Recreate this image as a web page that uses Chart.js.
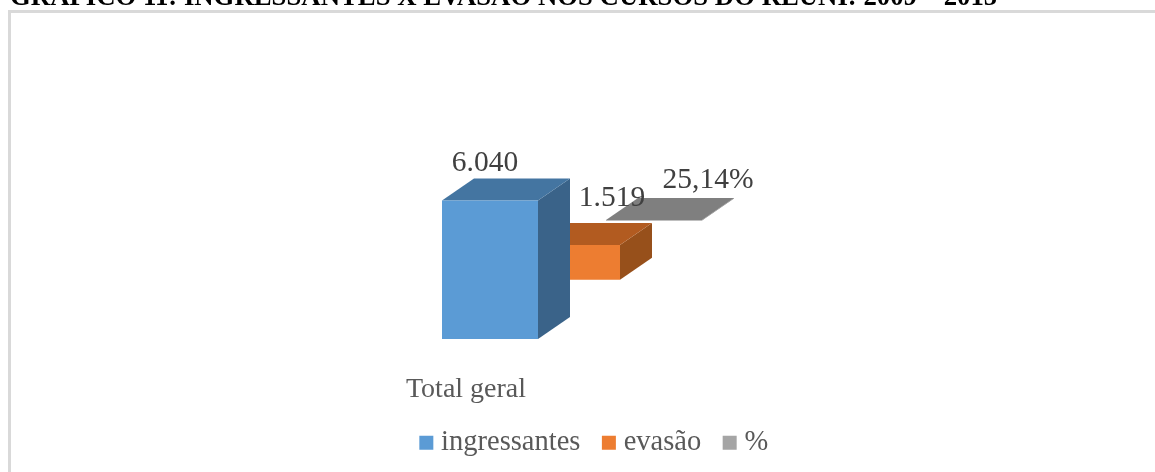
<!DOCTYPE html>
<html><head><meta charset="utf-8">
<style>
html,body{margin:0;padding:0;background:#fff;overflow:hidden}
#wrap{position:relative;width:1155px;height:472px;overflow:hidden}
canvas{position:absolute;left:0;top:0}
#frame{position:absolute;left:8px;top:10px;width:1200px;height:500px;border:3px solid #d9d9d9;box-sizing:border-box}
</style>
<script src="https://cdn.jsdelivr.net/npm/chart.js@4"></script>
</head><body><div id="wrap"><div id="frame"></div><canvas id="c" width="1155" height="472"></canvas></div>
<script>
const titleText = 'GRÁFICO 11: INGRESSANTES X EVASÃO NOS CURSOS DO REUNI: 2009 – 2015';
const categories = ['Total geral'];
const seriesNames = ['ingressantes', 'evasão', '%'];
const ingressantes = [6040];
const evasao = [1519];
const percentual = [25.14];
const valueLabels = ['6.040', '1.519', '25,14%'];
// raised baselines of the stepped 3D series
const evasaoBase = [2582];
const percentualBase = [5165];

const frontColors = ['#5B9BD5', '#ED7D31', '#808080'];
const topColors = ['#4475A1', '#B25B20', '#7F7F7F'];
const sideColors = ['#3A6389', '#97501B', '#6A6A6A'];
const legendColors = ['#5B9BD5', '#ED7D31', '#A5A5A5'];
const depthX = 32, depthY = -22;
const labelShift = [[-5, -30], [40, -39], [54, -32]];
const serif = '"Liberation Serif", serif';

const poly = (ctx, pts, color) => {
  ctx.fillStyle = color; ctx.beginPath();
  pts.forEach((p, i) => i ? ctx.lineTo(p[0], p[1]) : ctx.moveTo(p[0], p[1]));
  ctx.closePath(); ctx.fill();
};
const bar3d = {
  id: 'bar3d',
  afterLayout(chart) {
    chart.legend.left += 25; chart.legend.right += 25;
    const x = chart.scales.x; x.bottom = x.top + 80; // keep the tick label unclipped
  },
  beforeDatasetDraw(chart, args) {
    const el = chart.getDatasetMeta(args.index).data[0], ctx = chart.ctx, i = args.index;
    const l = el.x - el.width / 2, r = el.x + el.width / 2, t = el.y, b = el.base;
    poly(ctx, [[r, t], [r + depthX, t + depthY], [r + depthX, b + depthY], [r, b]], sideColors[i]);
    poly(ctx, [[l, t], [l + depthX, t + depthY], [r + depthX, t + depthY], [r, t]], topColors[i]);
  },
  afterDatasetsDraw(chart) {
    const ctx = chart.ctx;
    ctx.save();
    ctx.font = '29.5px ' + serif; ctx.fillStyle = '#404040';
    ctx.textAlign = 'center'; ctx.textBaseline = 'alphabetic';
    valueLabels.forEach((s, i) => {
      const el = chart.getDatasetMeta(i).data[0];
      ctx.fillText(s, el.x + labelShift[i][0], el.y + labelShift[i][1]);
    });
    ctx.restore();
  }
};
const scaleMax = 13525;
new Chart(document.getElementById('c'), {
  type: 'bar',
  plugins: [bar3d],
  data: {
    labels: categories,
    datasets: [
      { label: seriesNames[0], data: ingressantes, backgroundColor: frontColors[0] },
      { label: seriesNames[1], data: evasao.map((v, i) => [evasaoBase[i], evasaoBase[i] + v]), backgroundColor: frontColors[1] },
      { label: seriesNames[2], data: percentual.map((v, i) => [percentualBase[i], percentualBase[i] + v]), backgroundColor: frontColors[2] }
    ]
  },
  options: {
    responsive: false, animation: false,
    barPercentage: 96 / 82,
    categoryPercentage: 246 / 1124,
    layout: { padding: { left: 10, right: 21, top: 0, bottom: 5 } },
    plugins: {
      tooltip: { enabled: false },
      title: { display: true, text: titleText, align: 'start', color: '#000',
        font: { family: serif, size: 26.75, weight: 'bold', lineHeight: 1 }, padding: { top: -15.2, bottom: 17.45 } },
      legend: { position: 'bottom',
        labels: { color: '#595959', font: { family: serif, size: 28.5 }, usePointStyle: true, pointStyle: 'rect',
          boxWidth: 1, boxHeight: 14, padding: 28,
          generateLabels: c => seriesNames.map((n, i) => ({ text: n, fontColor: '#595959', fillStyle: legendColors[i], strokeStyle: legendColors[i], lineWidth: 0, pointStyle: 'rect', datasetIndex: i })) } }
    },
    scales: {
      y: { display: false, min: 0, max: scaleMax },
      x: { grid: { display: false, drawTicks: false }, border: { display: false },
        afterFit(s) { s.height -= 40; },
        ticks: { color: '#595959', font: { family: serif, size: 28 }, labelOffset: -106, padding: 34 } }
    }
  }
});
</script></body></html>
